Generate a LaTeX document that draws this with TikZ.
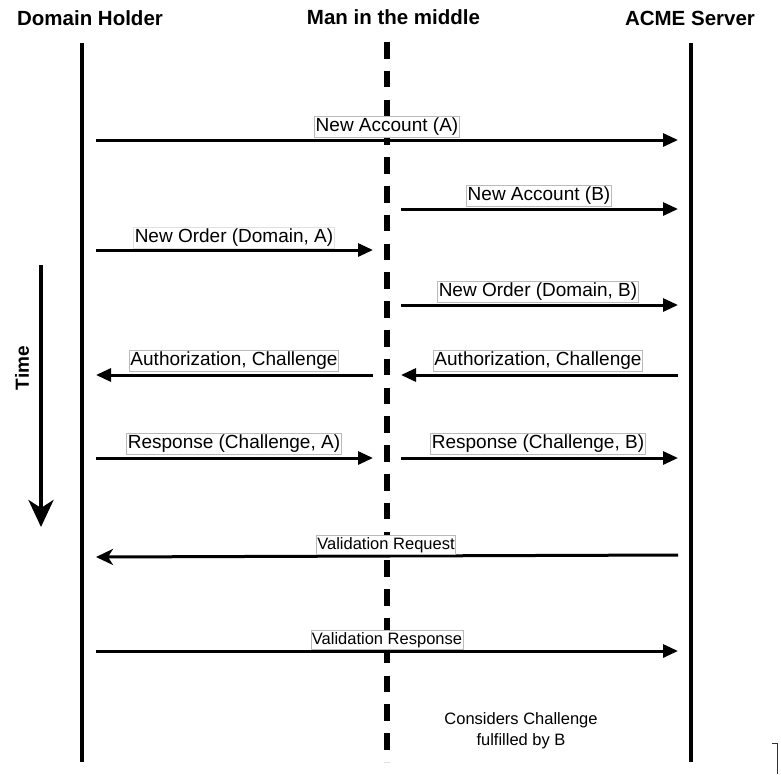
\documentclass[tikz,border=0pt]{standalone}
\usepackage{fontspec}
\setmainfont{Liberation Sans}
\usetikzlibrary{arrows.meta}
\begin{document}
\begin{tikzpicture}[x=1pt,y=-1pt,
  lifeline/.style={line width=3.5pt},
  mitmline/.style={line width=6pt, dash pattern=on 16.5pt off 12.3pt},
  msg/.style={line width=3pt, -{Triangle[length=15pt,width=13pt]}},
  validation/.style={line width=3pt, -{Stealth[length=17pt,width=16pt,inset=5pt]}},
  header/.style={font=\fontsize{20.5}{24}\selectfont\bfseries, inner sep=0pt},
  msglabel/.style={font=\fontsize{19}{22}\selectfont, draw=black!27, line width=0.8pt, fill=white, inner xsep=1pt, inner ysep=1.5pt},
  smalllabel/.style={font=\fontsize{16.5}{19}\selectfont, draw=black!27, line width=0.8pt, fill=white, inner xsep=1pt, inner ysep=1.5pt},
  note/.style={font=\fontsize{16.5}{21}\selectfont, align=center, inner sep=0pt}]
\useasboundingbox (0,0) rectangle (781,774);

% participants
\node[header] (dh) at (90,18.5) {Domain Holder};
\node[header] (mitm) at (393.5,17.5) {Man in the middle};
\node[header] (acme) at (690,18.5) {ACME Server};

% lifelines
\coordinate (dh-top) at (82,43);   \coordinate (dh-bot) at (82,762);
\coordinate (mitm-top) at (387,42); \coordinate (mitm-bot) at (387,762);
\coordinate (acme-top) at (691,43); \coordinate (acme-bot) at (691,762);
\draw[lifeline] (dh-top) -- (dh-bot);
\draw[mitmline] (mitm-top) -- (mitm-bot);
\draw[lifeline] (acme-top) -- (acme-bot);

% time axis
\coordinate (time-start) at (41,265);
\coordinate (time-end) at (41,527);
\draw[line width=4pt, -{Stealth[length=27pt,width=25pt,inset=8pt]}] (time-start) -- (time-end);
\node[font=\fontsize{19}{22}\selectfont\bfseries, rotate=90, inner sep=0pt] (time) at (22,368) {Time};

% message end points
\coordinate (m1-s) at (96,140);  \coordinate (m1-e) at (678,140);
\coordinate (m2-s) at (401,209); \coordinate (m2-e) at (678,209);
\coordinate (m3-s) at (96,250);  \coordinate (m3-e) at (373,250);
\coordinate (m4-s) at (401,305); \coordinate (m4-e) at (678,305);
\coordinate (m5-s) at (373,375); \coordinate (m5-e) at (96,375);
\coordinate (m6-s) at (678,375); \coordinate (m6-e) at (401,375);
\coordinate (m7-s) at (96,458);  \coordinate (m7-e) at (373,458);
\coordinate (m8-s) at (401,458); \coordinate (m8-e) at (678,458);
\coordinate (m9-s) at (678,555); \coordinate (m9-e) at (96,557);
\coordinate (m10-s) at (96,651); \coordinate (m10-e) at (678,651);

% messages
\draw[msg] (m1-s) -- (m1-e);
\draw[msg] (m2-s) -- (m2-e);
\draw[msg] (m3-s) -- (m3-e);
\draw[msg] (m4-s) -- (m4-e);
\draw[msg] (m5-s) -- (m5-e);
\draw[msg] (m6-s) -- (m6-e);
\draw[msg] (m7-s) -- (m7-e);
\draw[msg] (m8-s) -- (m8-e);
\draw[validation] (m9-s) -- (m9-e);
\draw[msg] (m10-s) -- (m10-e);

% message labels
\node[msglabel] (l1) at (387,127) {New Account (A)};
\node[msglabel] (l2) at (539,196) {New Account (B)};
\node[msglabel, draw=black!12] (l3) at (234,238) {New Order (Domain, A)};
\node[msglabel] (l4) at (538,292) {New Order (Domain, B)};
\node[msglabel] (l5) at (234,361) {Authorization, Challenge};
\node[msglabel] (l6) at (538,361) {Authorization, Challenge};
\node[msglabel] (l7) at (234,444) {Response (Challenge, A)};
\node[msglabel] (l8) at (538,444) {Response (Challenge, B)};
\node[smalllabel] (l9) at (386,545) {Validation Request};
\node[smalllabel] (l10) at (387,640) {Validation Response};

% outcome note
\node[note] (outcome) at (521,731) {Considers Challenge\\fulfilled by B};

% bracket at the lower right edge
\draw[line width=1pt, black!80] (772,743) -- (777,743) -- (777,774);
\end{tikzpicture}
\end{document}
